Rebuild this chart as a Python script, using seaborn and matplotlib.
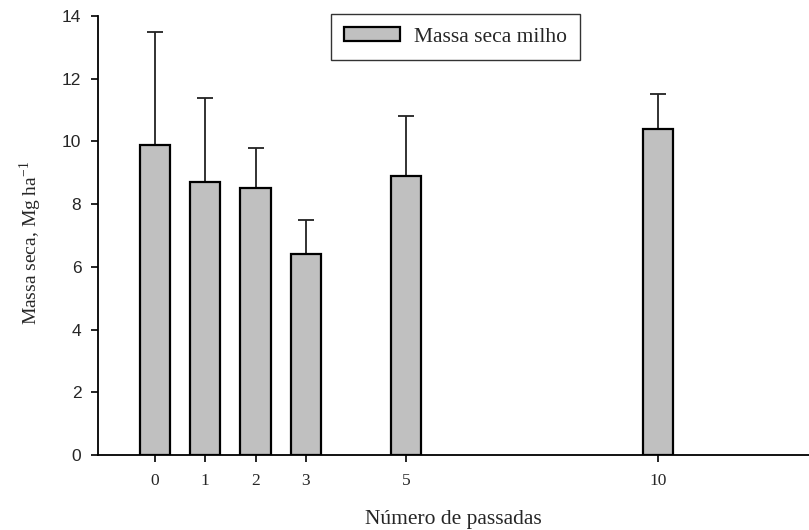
import matplotlib
matplotlib.use("Agg")
import matplotlib.pyplot as plt
import seaborn as sns
import pandas as pd
import numpy as np

passadas = [0, 1, 2, 3, 5, 10]
massa_seca = [9.9, 8.7, 8.5, 6.4, 8.9, 10.4]
erro_sup = [3.6, 2.7, 1.3, 1.1, 1.9, 1.1]
y_ticks = [0, 2, 4, 6, 8, 10, 12, 14]

sns.set_theme(style="ticks")
plt.rcParams['font.family'] = ['Liberation Serif', 'DejaVu Serif']

df = pd.DataFrame({"passadas": passadas, "massa": massa_seca})

fig = plt.figure(figsize=(8.09, 5.30), dpi=100)
ax = fig.add_axes([98/809, 1-455/530, 1-98/809, (455-16)/530])

sns.barplot(data=df, x="passadas", y="massa", native_scale=True, width=0.6,
            color="#c0c0c0", edgecolor="black", linewidth=1.6, saturation=1,
            errorbar=None, ax=ax, label="Massa seca milho", zorder=2)
ax.errorbar(passadas, massa_seca, yerr=[np.zeros(len(erro_sup)), erro_sup],
            fmt="none", ecolor="#222222", elinewidth=1.3, capsize=5.8,
            capthick=1.3, zorder=1)

ax.set_xlim(-1.134, 13.01)
ax.set_ylim(0, 14)
ax.set_yticks(y_ticks)
ax.set_xticks(passadas)
ax.set_xticklabels([str(p) for p in passadas], fontfamily="Liberation Serif", fontsize=12.5)
ax.set_yticklabels([str(t) for t in y_ticks], fontfamily="Liberation Sans", fontsize=12.5)
ax.tick_params(axis="both", direction="out", length=5, width=1.2, color="black")
ax.tick_params(axis="y", pad=7)
ax.tick_params(axis="x", pad=8)

for side in ["top", "right"]:
    ax.spines[side].set_visible(False)
for side in ["left", "bottom"]:
    ax.spines[side].set_color("black")
    ax.spines[side].set_linewidth(1.3)

ax.set_xlabel("Número de passadas", fontsize=15.5, labelpad=15)
ax.set_ylabel("Massa seca, Mg ha$^{\\mathregular{-1}}$", fontsize=14)
ax.yaxis.set_label_coords(-0.076, 0.484)

leg = ax.legend(loc="center", bbox_to_anchor=(0.503, 0.952), frameon=True,
                fancybox=False, edgecolor="black", fontsize=15.5,
                handlelength=2.6, handleheight=0.56, borderpad=0.62,
                handletextpad=0.65, borderaxespad=0)
leg.get_frame().set_linewidth(1.0)

fig.savefig("out.png", dpi=100)
